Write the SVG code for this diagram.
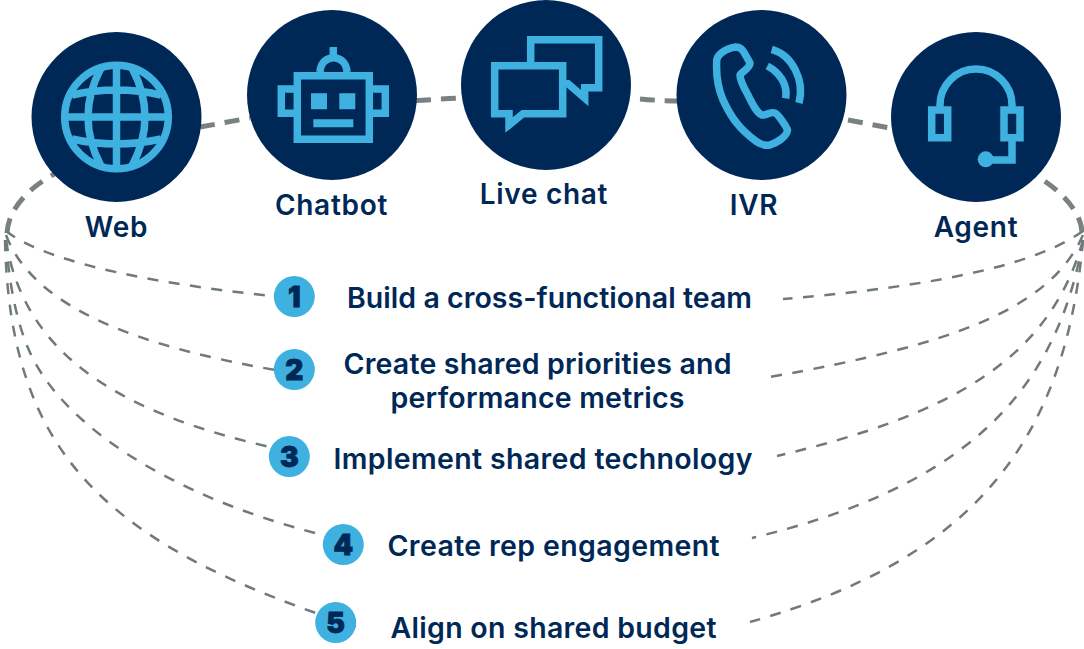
<svg xmlns="http://www.w3.org/2000/svg" width="1084" height="649" viewBox="0 0 1084 649">
<style>
text{font-family:"Inter","Liberation Sans",sans-serif;font-weight:600;fill:#002856;text-anchor:middle}
.lbl{font-size:28px;letter-spacing:.7px}
.item{font-size:28.500px}
.num{font-size:28px;font-weight:900;stroke:#002856;stroke-width:.8px}
.disc{fill:#002856}
.badge{fill:#3FB1E0}
.ic{fill:none;stroke:#3FB1E0;stroke-width:7.5;stroke-miterlimit:10}
.icf{fill:#3FB1E0}
.thick{fill:none;stroke:#7A8281;stroke-width:5;stroke-dasharray:15 10}
.thin{fill:none;stroke:#6F7A7A;stroke-width:2.5;stroke-dasharray:11 10.5}
</style>
<rect width="1084" height="649" fill="#fff"/>
<g id="connectors">
<path class="thick" d="M7 233C8 212 25 188 62 170" />
<path class="thick" d="M200 127L250 118"/>
<path class="thick" d="M416 100.500C432 100 447 98 465 98"/>
<path class="thick" d="M640 99C652 100 665 101 680 101"/>
<path class="thick" d="M848 120L895 129"/>
<path class="thick" d="M1082 232C1081 212 1062 190 1030 172"/>
<path class="thin" d="M6 231C40 258 130 281 272 296"/>
<path class="thin" d="M6 235C35 312 150 348 275 370"/>
<path class="thin" d="M6 240C24 360 130 415 270 447"/>
<path class="thin" d="M6 240C9 285 17 322 28 348C60 425 170 495 315 533"/>
<path class="thin" d="M5 240C10 455 105 545 357 627"/>
<path class="thin" d="M1083 231C1040 262 950 285 783 299"/>
<path class="thin" d="M1083 235C1050 310 950 345 770 377"/>
<path class="thin" d="M1083 240C1050 360 950 415 777 456"/>
<path class="thin" d="M1083 240C1055 405 950 490 752 538"/>
<path class="thin" d="M1083 240C1065 445 970 560 750 622"/>
</g>
<g id="node-web">
<circle class="disc" cx="116.500" cy="117" r="85"/>
<circle class="ic" cx="116.500" cy="117" r="51.800"/>
<path class="ic" d="M116.500 65V169M65 117H168M101 68Q75 117 101 166M132 68Q158 117 132 166M72 95Q116.500 85 161 95M72 139Q116.500 149 161 139"/>
<text class="lbl" x="116.500" y="237">Web</text>
</g>
<g id="node-chatbot">
<circle class="disc" cx="332" cy="95" r="85"/>
<path class="ic" d="M297.300 75.700H369.300V139.300H297.300ZM297.300 89H281.300V113.300H297.300M369.300 89H385.300V113.300H369.300M333.300 47V58M320 72C321 53 346 53 347 72"/>
<path class="icf" d="M311 93.300h16v16h-16zM339.300 93.300h16v16h-16zM313.300 119.300h40v8h-40z"/>
<text class="lbl" x="331.500" y="215">Chatbot</text>
</g>
<g id="node-live-chat">
<circle class="disc" cx="546" cy="85" r="85"/>
<path class="ic" d="M530.700 62V39.700H598.700V87.700H584.700V98L568 83.700H566M494.700 65.700H562.700V113.700H523L509 125V113.700H494.700Z"/>
<text class="lbl" x="544" y="204">Live chat</text>
</g>
<g id="node-ivr">
<circle class="disc" cx="761.500" cy="95" r="85"/>
<path class="ic" stroke-linejoin="round" d="M716.700 61.700C716 55 726 48 736 47C741 47 743 50 745 54L750 63C750 68 743 71 740 75C740 80 744 88 748 95C752 103 756 112 761.700 115C766 116 771 111 775 113C778 114 786 126 787.500 130C787 137 776 143 770 145C765 146 760 144 756.700 141.700C749 136 742 130 736.700 123C730 115 727 108 723 100C718 88 716 75 716.700 61.700Z"/>
<path class="ic" d="M771.700 49.300C792 55 805 80 799 103M767.300 66C779 72 788 84 785.700 98.300"/>
<text class="lbl" x="754" y="215">IVR</text>
</g>
<g id="node-agent">
<circle class="disc" cx="976" cy="117" r="85"/>
<path class="ic" stroke-width="8" d="M940 107V105A36 36 0 0 1 1012 105V107M931.700 110H947.700V137.700H931.700ZM1004 110H1020V137.700H1004ZM1012 141V160H986"/>
<circle class="icf" cx="985.700" cy="159.300" r="8"/>
<text class="lbl" x="976" y="237">Agent</text>
</g>
<g id="item-1">
<circle class="badge" cx="294.300" cy="296.500" r="20.500"/>
<text class="num" x="294.300" y="306.500">1</text>
<text class="item" x="549.500" y="308" textLength="405">Build a cross-functional team</text>
</g>
<g id="item-2">
<circle class="badge" cx="294.300" cy="369.500" r="20.500"/>
<text class="num" x="294.300" y="379.500">2</text>
<text class="item" x="537.500" y="374" textLength="388">Create shared priorities and</text>
<text class="item" x="537.500" y="408" textLength="294">performance metrics</text>
</g>
<g id="item-3">
<circle class="badge" cx="289.300" cy="456.500" r="20.500"/>
<text class="num" x="289.300" y="466.500">3</text>
<text class="item" x="543" y="469" textLength="419">Implement shared technology</text>
</g>
<g id="item-4">
<circle class="badge" cx="343.300" cy="544.500" r="20.500"/>
<text class="num" x="343.300" y="554.500">4</text>
<text class="item" x="553.500" y="556" textLength="332">Create rep engagement</text>
</g>
<g id="item-5">
<circle class="badge" cx="335.700" cy="622.500" r="20.500"/>
<text class="num" x="335.700" y="632.500">5</text>
<text class="item" x="553.500" y="638" textLength="326">Align on shared budget</text>
</g>
</svg>
